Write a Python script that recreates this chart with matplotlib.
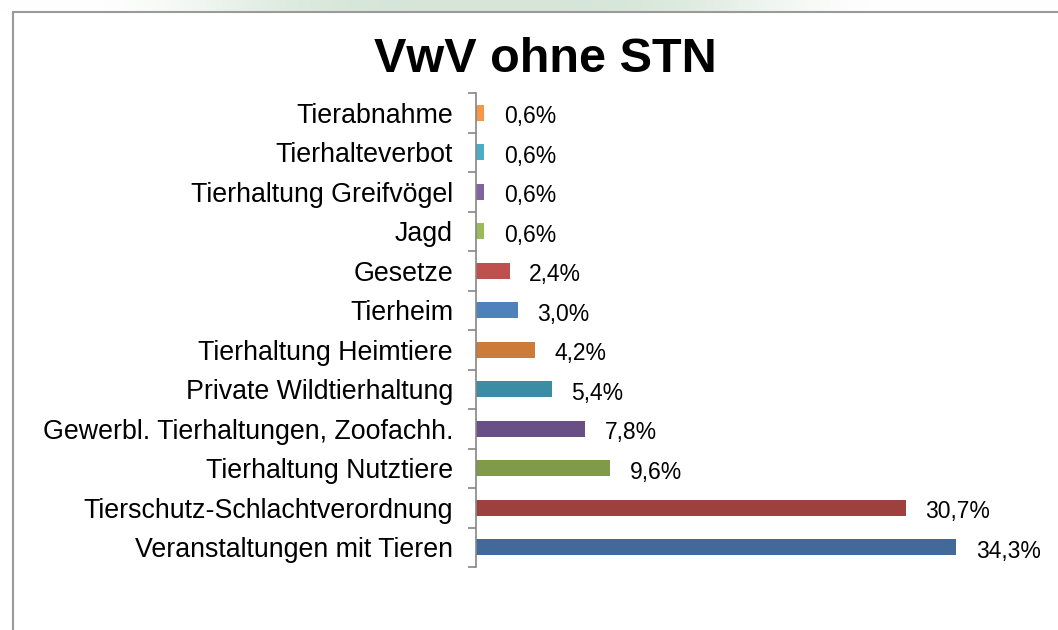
import numpy as np
import matplotlib
matplotlib.use("Agg")
import matplotlib.pyplot as plt
from matplotlib.patches import Rectangle

plt.rcParams['font.family'] = ['Liberation Sans', 'DejaVu Sans']

# categories from bottom to top, as drawn
categories = [
    "Veranstaltungen mit Tieren",
    "Tierschutz-Schlachtverordnung",
    "Tierhaltung Nutztiere",
    "Gewerbl. Tierhaltungen, Zoofachh.",
    "Private Wildtierhaltung",
    "Tierhaltung Heimtiere",
    "Tierheim",
    "Gesetze",
    "Jagd",
    "Tierhaltung Greifvögel",
    "Tierhalteverbot",
    "Tierabnahme",
]
values = [34.3, 30.7, 9.6, 7.8, 5.4, 4.2, 3.0, 2.4, 0.6, 0.6, 0.6, 0.6]
bar_colors = [
    "#416A9A", "#9E413E", "#7F9A48", "#684F86", "#3B8DA4", "#CD7B39",
    "#4F81BD", "#C0504D", "#9BBB59", "#8064A2", "#4BACC6", "#F79646",
]
title = "VwV ohne STN"

W, H = 1058, 630
fig = plt.figure(figsize=(W / 100, H / 100), dpi=100)
fig.patch.set_facecolor("white")

# faint green backdrop showing above the chart frame
top = fig.add_axes([0, 1 - 12 / H, 1, 12 / H])
xs = np.linspace(0, 1, 400)
glow = np.exp(-((xs - 0.46) / 0.27) ** 4)
strip = np.ones((1, 400, 3))
for i, c in enumerate((0.84, 0.90, 0.85)):
    strip[0, :, i] = 1 - glow * (1 - c)
top.imshow(strip, aspect="auto", extent=[0, 1, 0, 1])
top.axis("off")

# chart frame (runs off the right and bottom edges)
fig.patches.append(Rectangle((13 / W, -0.05), 1.1, 1 - 12 / H + 0.05,
                             transform=fig.transFigure, fill=False,
                             edgecolor="#9a9a9a", linewidth=1.5))

ax = fig.add_axes([476 / W, (H - 567) / H, 560 / W, 474 / H])
y = np.arange(len(categories))
ax.barh(y, values, height=0.4, color=bar_colors)
ax.set_xlim(0, 40)
ax.set_ylim(-0.5, len(categories) - 0.5)

ax.set_yticks(y)
ax.set_yticklabels(categories, fontsize=19.3)
ax.set_yticks(np.arange(-0.5, len(categories), 1), minor=True)
ax.tick_params(axis="y", which="major", length=0, pad=16.5)
ax.tick_params(axis="y", which="minor", length=6, width=1.2, color="#868686")
ax.set_xticks([])
for s in ("top", "right", "bottom"):
    ax.spines[s].set_visible(False)
ax.spines["left"].set_color("#868686")
ax.spines["left"].set_linewidth(1.2)

for yi, v in zip(y, values):
    ax.annotate(("%.1f%%" % v).replace(".", ","), (v, yi),
                xytext=(14, -3), textcoords="offset points",
                ha="left", va="center", fontsize=16.5)

fig.text(545 / W, 1 - 72 / H, title, ha="center", va="baseline",
         fontsize=35, fontweight="bold")

fig.savefig("out.png", dpi=100)
